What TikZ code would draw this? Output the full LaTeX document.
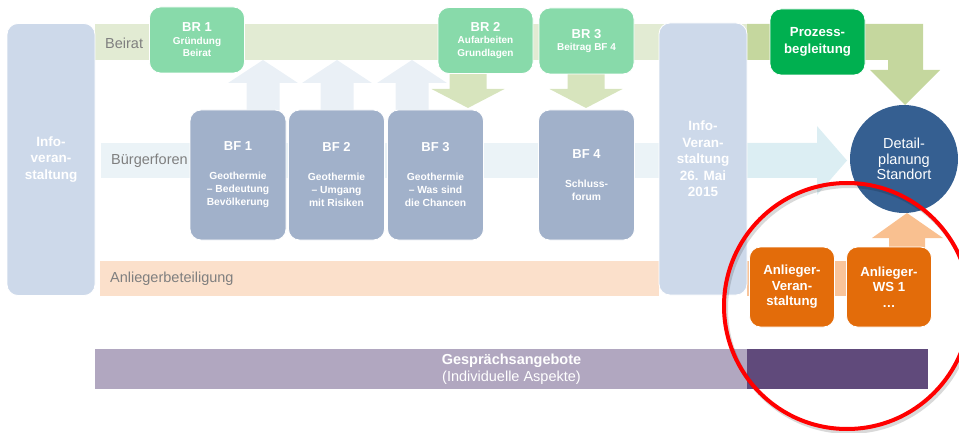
\documentclass[tikz,border=0pt]{standalone}
\usepackage{fontspec}
\setmainfont{Liberation Sans}
\usetikzlibrary{shapes.geometric}

\definecolor{infoblue}{HTML}{CDD9EA}
\definecolor{beiratlight}{HTML}{E2EBD3}
\definecolor{beiratdark}{HTML}{C5D79E}
\definecolor{brgreen}{HTML}{88DAAA}
\definecolor{prozgreen}{HTML}{00B050}
\definecolor{downgreen}{HTML}{D7E4BD}
\definecolor{bfblue}{HTML}{A1B1CA}
\definecolor{burgerlight}{HTML}{EBF3F7}
\definecolor{burgerdark}{HTML}{DCEEF3}
\definecolor{upblue}{HTML}{EAF0F6}
\definecolor{detailblue}{HTML}{355F91}
\definecolor{anlight}{HTML}{FBE0CB}
\definecolor{andark}{HTML}{F9C49A}
\definecolor{anarrow}{HTML}{F9C090}
\definecolor{anorange}{HTML}{E36C0A}
\definecolor{gesplight}{HTML}{B1A7C0}
\definecolor{gespdark}{HTML}{604A7B}
\definecolor{labelgray}{HTML}{7F7F7F}

\tikzset{
  box/.style={rectangle, rounded corners=11pt, draw=white, line width=0.8pt,
    inner sep=0pt, align=center, text=white, font=\bfseries},
  infobox/.style={box, fill=infoblue, minimum width=88pt, minimum height=272pt,
    font=\bfseries\fontsize{13.5}{16.5}\selectfont},
  brbox/.style={box, fill=brgreen, minimum width=95pt, minimum height=66pt,
    font=\bfseries\fontsize{10}{12.5}\selectfont},
  bfbox/.style={box, fill=bfblue, minimum width=96pt, minimum height=130pt,
    font=\bfseries\fontsize{10.3}{13}\selectfont},
  anbox/.style={box, fill=anorange, minimum width=85pt, minimum height=80pt,
    font=\bfseries\fontsize{13.2}{15.5}\selectfont},
  bandlabel/.style={right, inner sep=0pt, text=labelgray, font=\fontsize{14.5}{17}\selectfont}
}

\begin{document}
\begin{tikzpicture}[x=1pt, y=-1pt]
  \useasboundingbox (0,0) rectangle (959,433);
  \clip (0,0) rectangle (959,433);

  % bands
  \fill [beiratlight] (95,24) rectangle (747,60);
  \fill [beiratdark] (747,24) -- (923,24) -- (923,70) -- (940,70) -- (905,105)
    -- (870,70) -- (888,70) -- (888,60) -- (747,60) -- cycle;
  \fill [burgerlight] (101,143) rectangle (659,178);
  \fill [burgerdark] (747,143) -- (817,143) -- (817,126) -- (847,160.5)
    -- (817,195) -- (817,178) -- (747,178) -- cycle;
  \fill [anlight] (100,261) rectangle (659,296);
  \fill [andark] (747,261) rectangle (846,296);
  \fill [gesplight] (95,349) rectangle (747,389);
  \fill [gespdark] (747,349) rectangle (928,389);

  % arrows between Beirat and Buergerforen
  \foreach \ax in {263,337,412}
    \fill [upblue] (\ax-16.5,110) -- (\ax-16.5,83) -- (\ax-35,83) -- (\ax,60)
      -- (\ax+35,83) -- (\ax+16.5,83) -- (\ax+16.5,110) -- cycle;
  \foreach \ax in {468,586}
    \fill [downgreen] (\ax-18.5,73) -- (\ax-18.5,89) -- (\ax-36.5,89) -- (\ax,108)
      -- (\ax+36.5,89) -- (\ax+18.5,89) -- (\ax+18.5,73) -- cycle;
  \fill [anarrow] (889,248) -- (889,238) -- (872,238) -- (907,213)
    -- (943,238) -- (925,238) -- (925,248) -- cycle;

  \node (beirat) [bandlabel] at (105,43) {Beirat};
  \node (buerger) [bandlabel] at (111,161) {Bürgerforen};
  \node (anlieger) [bandlabel] at (110,279) {Anliegerbeteiligung};

  \node (info1) [infobox] at (51,159.5) {Info-\\veran-\\staltung};
  \node (info2) [infobox] at (703,159) {Info-\\Veran-\\staltung\\26. Mai\\2015};

  \node (br1) [brbox] at (197,40) {{\fontsize{13}{15}\selectfont BR 1}\\Gründung\\Beirat};
  \node (br2) [brbox] at (485.5,40.5) {{\fontsize{13}{15}\selectfont BR 2}\\Aufarbeiten\\Grundlagen};
  \node (br3) [brbox] at (586.5,41) {{\fontsize{13}{15}\selectfont BR 3}\\Beitrag BF 4};
  \node (prozess) [brbox, fill=prozgreen, font=\bfseries\fontsize{13.2}{17}\selectfont]
    at (817.5,42) {Prozess-\\begleitung};

  \node (bf1) [bfbox] at (238,175) {{\fontsize{13}{15}\selectfont BF 1}\\[16pt]Geothermie\\-- Bedeutung\\Bevölkerung};
  \node (bf2) [bfbox] at (336.5,175) {{\fontsize{13}{15}\selectfont BF 2}\\[16pt]Geothermie\\-- Umgang\\mit Risiken};
  \node (bf3) [bfbox] at (435.5,175) {{\fontsize{13}{15}\selectfont BF 3}\\[16pt]Geothermie\\-- Was sind\\die Chancen};
  \node (bf4) [bfbox] at (586.5,175) {{\fontsize{13}{15}\selectfont BF 4}\\[16pt]Schluss-\\forum};

  \node (detail) [circle, fill=detailblue, minimum size=108pt, inner sep=0pt, align=center,
    text=white, font=\fontsize{14.5}{15.5}\selectfont] at (904,159) {Detail-\\planung\\Standort};

  \node (anv) [anbox] at (792,287) {Anlieger-\\Veran-\\staltung};
  \node (anws) [anbox] at (889,287) {Anlieger-\\WS 1\\\ldots};

  \node (gesp) [align=center, text=white, inner sep=0pt, font=\fontsize{14.5}{16.5}\selectfont]
    at (511.5,369) {\textbf{Gesprächsangebote}\\(Individuelle Aspekte)};

  % red mark
  \draw [black, opacity=0.15, line width=4pt] (849,309) circle [radius=123];
  \draw [red, line width=4pt] (847,306) circle [radius=123];
\end{tikzpicture}
\end{document}
